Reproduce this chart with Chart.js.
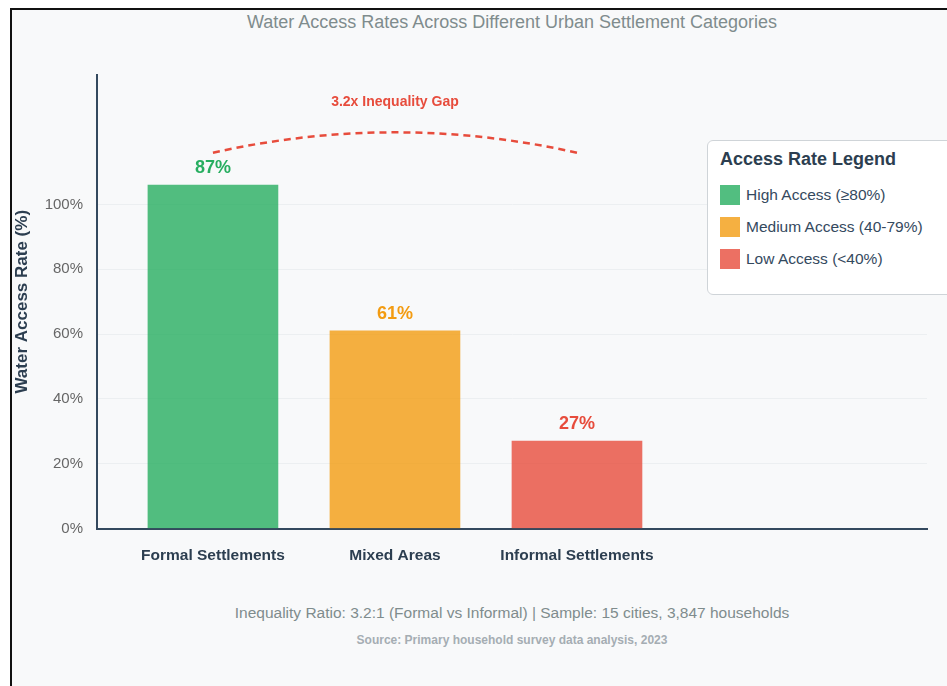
<!DOCTYPE html>
<html>
<head>
<meta charset="utf-8">
<script src="https://cdn.jsdelivr.net/npm/chart.js@4.4.1/dist/chart.umd.min.js"></script>
<style>
  body { margin: 0; background: #fff; font-family: "Liberation Sans", Arial, sans-serif; }
  #frame { position: absolute; left: 10px; top: 8px; width: 1000px; height: 700px; border: 2px solid #111; background: #f8f9fa; }
  #title { position: absolute; left: 12px; top: 10px; width: 1000px; text-align: center; font-size: 18px; line-height: 24px; color: #7f8c8d; }
  #chart { position: absolute; left: 12px; top: 40px; }
  #legend { position: absolute; left: 707px; top: 140px; width: 262px; height: 155px; box-sizing: border-box; padding: 8px 12px; background: #fff; border: 1px solid #cfd4d8; border-radius: 6px; }
  #legend h3 { margin: 0 0 16px 0; font-size: 18px; line-height: 20px; color: #2c3e50; }
  .item { display: flex; align-items: center; height: 20px; margin-bottom: 12px; font-size: 15.5px; color: #34495e; }
  .sw { width: 20px; height: 20px; margin-right: 6px; }
  #foot1 { position: absolute; left: 12px; top: 603px; width: 1000px; text-align: center; font-size: 15.5px; line-height: 20px; color: #7f8c8d; }
  #foot2 { position: absolute; left: 12px; top: 632px; width: 1000px; text-align: center; font-size: 12px; font-weight: bold; line-height: 16px; color: #a5adb3; }
</style>
</head>
<body>
<div id="frame"></div>
<div id="title">Water Access Rates Across Different Urban Settlement Categories</div>
<canvas id="chart" width="935" height="560"></canvas>
<div id="legend"><h3>Access Rate Legend</h3></div>
<div id="foot1">Inequality Ratio: 3.2:1 (Formal vs Informal) | Sample: 15 cities, 3,847 households</div>
<div id="foot2">Source: Primary household survey data analysis, 2023</div>
<script>
// data
const CATEGORIES = ["Formal Settlements", "Mixed Areas", "Informal Settlements"];
const BAR_HEIGHTS = [106, 61, 27];
const VALUE_LABELS = ["87%", "61%", "27%"];
const BAR_COLORS = ["#27ae60", "#f39c12", "#e74c3c"];
const Y_TICKS = [0, 20, 40, 60, 80, 100];
const LEGEND_LABELS = ["High Access (\u226580%)", "Medium Access (40-79%)", "Low Access (<40%)"];
const GAP_TEXT = "3.2x Inequality Gap";

function alpha(hex, a) {
  const n = parseInt(hex.slice(1), 16);
  return `rgba(${n >> 16}, ${(n >> 8) & 255}, ${n & 255}, ${a})`;
}

// legend box
const legendEl = document.getElementById("legend");
LEGEND_LABELS.forEach((txt, i) => {
  const row = document.createElement("div");
  row.className = "item";
  row.innerHTML = `<span class="sw" style="background:${alpha(BAR_COLORS[i], 0.8)}"></span>${txt}`;
  legendEl.appendChild(row);
});

const FONT = '"Liberation Sans", Arial, sans-serif';

// value labels above bars + dashed gap arc
const overlay = {
  id: "overlay",
  afterDatasetsDraw(chart) {
    const { ctx, scales: { x, y } } = chart;
    const meta = chart.getDatasetMeta(0);
    ctx.save();
    ctx.font = `bold 18px ${FONT}`;
    ctx.textAlign = "center";
    ctx.textBaseline = "alphabetic";
    meta.data.forEach((bar, i) => {
      ctx.fillStyle = BAR_COLORS[i];
      ctx.fillText(VALUE_LABELS[i], bar.x, bar.y - 12);
    });

    ctx.strokeStyle = "#e74c3c";
    ctx.lineWidth = 2.5;
    ctx.setLineDash([7, 5]);
    ctx.beginPath();
    ctx.moveTo(x.getPixelForValue(0), y.getPixelForValue(116));
    ctx.quadraticCurveTo(x.getPixelForValue(1), y.getPixelForValue(128.6), x.getPixelForValue(2), y.getPixelForValue(116));
    ctx.stroke();
    ctx.setLineDash([]);

    ctx.fillStyle = "#e74c3c";
    ctx.font = `bold 14px ${FONT}`;
    ctx.textBaseline = "middle";
    ctx.fillText(GAP_TEXT, x.getPixelForValue(1), y.getPixelForValue(131.6));
    ctx.restore();
  }
};

new Chart(document.getElementById("chart").getContext("2d"), {
  type: "bar",
  data: {
    datasets: [{
      data: BAR_HEIGHTS.map((v, i) => ({ x: i, y: v })),
      backgroundColor: BAR_COLORS.map(c => alpha(c, 0.8)),
      borderWidth: 0,
      barThickness: 130,
    }],
  },
  options: {
    responsive: false,
    animation: false,
    layout: { padding: { top: 35, right: 20, left: 0, bottom: 0 } },
    plugins: { legend: { display: false }, tooltip: { enabled: false } },
    scales: {
      x: {
        type: "linear",
        offset: false,
        min: -0.637,
        max: 3.923,
        afterBuildTicks: s => { s.ticks = CATEGORIES.map((c, i) => ({ value: i })); },
        afterFit: s => { s.height = 71.5; },
        grid: { display: false, drawTicks: false },
        border: { display: true, color: "#34495e", width: 2 },
        ticks: {
          autoSkip: false,
          maxRotation: 0,
          padding: 18,
          color: "#2c3e50",
          font: { family: FONT, size: 15.5, weight: "bold" },
          callback: v => CATEGORIES[v] ?? "",
        },
      },
      y: {
        min: 0,
        max: 140,
        afterBuildTicks: s => { s.ticks = Y_TICKS.map(v => ({ value: v })); },
        afterFit: s => { s.width = 85; },
        grid: { color: "#eceff1", lineWidth: 1, drawTicks: false },
        border: { display: true, color: "#34495e", width: 2 },
        ticks: {
          padding: 14,
          color: "#666",
          font: { family: FONT, size: 15 },
          callback: v => v + "%",
        },
        title: {
          display: true,
          text: "Water Access Rate (%)",
          color: "#2c3e50",
          padding: 0,
          font: { family: FONT, size: 17, weight: "bold" },
        },
      },
    },
  },
  plugins: [overlay],
});
</script>
</body>
</html>
